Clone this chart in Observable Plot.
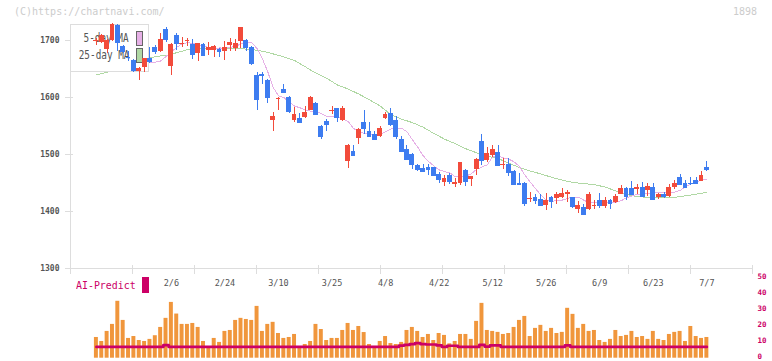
<!DOCTYPE html>
<html><head><meta charset="utf-8">
<script src="https://cdn.jsdelivr.net/npm/d3@7"></script>
<script src="https://cdn.jsdelivr.net/npm/@observablehq/plot@0.6"></script>
<style>
body{margin:0;background:#fff;}
#wrap{position:relative;width:772px;height:361px;overflow:hidden;font-family:"DejaVu Sans Mono",monospace;background:#fff;}
#wrap svg{position:absolute;left:0;top:0;}
.abs{position:absolute;white-space:nowrap;}
</style></head><body><div id="wrap"></div>
<script>
// ---- data ----
const open  = [1699,1697,1684,1700,1727,1690,1671,1665,1646,1653, 1668,1688,1680,1719,1654,1708,1694,1699,1693,1677, 1693,1682,1683,1684,1680,1692,1686,1699,1700,1688, 1639,1640,1630,1560,1597,1614,1600,1559,1563,1565, 1578,1590,1550,1558,1577,1580,1559,1487,1506,1528, 1557,1541,1535,1532,1563,1572,1560,1526,1509,1500, 1481,1475,1478,1477,1465,1451,1463,1448,1450,1472, 1457,1474,1523,1490,1499,1504,1480,1483,1471,1450, 1449,1422,1425,1421,1411,1425,1423,1425,1429,1425, 1403,1407,1404,1410,1420,1409,1420,1416,1430,1440, 1440,1439,1442,1436,1442,1425,1430,1426,1442,1460, 1449,1450,1454,1453,1477];
const high  = [1704,1711,1702,1729,1728,1692,1680,1667,1653,1669, 1688,1691,1712,1722,1695,1712,1706,1703,1701,1695, 1694,1696,1692,1686,1699,1703,1702,1723,1701,1689, 1644,1644,1631,1574,1600,1622,1601,1583,1572,1585, 1602,1591,1551,1561,1584,1581,1585,1517,1516,1545, 1577,1556,1540,1550,1574,1580,1566,1531,1516,1501, 1482,1482,1483,1478,1468,1463,1467,1458,1486,1473, 1462,1493,1535,1512,1516,1516,1493,1493,1472,1466, 1451,1433,1429,1429,1432,1426,1434,1440,1436,1425, 1418,1412,1433,1420,1432,1425,1421,1430,1446,1442, 1453,1448,1451,1449,1449,1432,1433,1447,1454,1465, 1454,1460,1460,1470,1488];
const low   = [1692,1695,1678,1698,1681,1677,1663,1644,1630,1643, 1659,1675,1679,1696,1638,1682,1687,1690,1666,1663, 1672,1674,1670,1670,1665,1680,1680,1686,1680,1657, 1578,1623,1590,1541,1578,1607,1572,1557,1556,1563, 1577,1568,1527,1541,1570,1556,1558,1475,1496,1518, 1535,1529,1526,1529,1562,1550,1527,1504,1490,1474, 1470,1470,1464,1463,1449,1443,1447,1442,1446,1443, 1443,1464,1480,1486,1494,1480,1474,1461,1447,1447, 1409,1416,1413,1410,1402,1405,1413,1423,1416,1405, 1396,1393,1402,1404,1405,1405,1404,1414,1429,1420, 1429,1429,1425,1427,1420,1421,1423,1424,1439,1446, 1440,1446,1448,1452,1470];
const close = [1700,1709,1700,1728,1696,1680,1670,1647,1651,1668, 1664,1680,1702,1701,1693,1695,1695,1700,1676,1695, 1674,1688,1690,1680,1687,1697,1694,1723,1687,1659, 1597,1638,1600,1567,1598,1609,1576,1570,1557,1574, 1600,1570,1532,1553,1578,1565,1580,1516,1499,1544, 1546,1531,1527,1546,1570,1552,1532,1505,1492,1483, 1474,1471,1474,1464,1456,1458,1452,1451,1486,1452, 1461,1492,1490,1502,1509,1481,1483,1468,1448,1448, 1414,1423,1420,1411,1420,1418,1430,1432,1434,1409, 1410,1394,1429,1411,1410,1420,1414,1427,1440,1426, 1430,1442,1427,1444,1421,1429,1427,1442,1449,1447, 1442,1449,1449,1464,1474];
const volume = [13.0,10.5,16.8,21.2,35.7,23.7,12.4,13.6,11.1,10.5, 11.8,14.1,19.3,25.0,35.0,27.7,21.2,21.2,21.8,19.3, 10.5,7.0,12.4,9.9,16.8,17.4,23.7,25.0,24.3,23.7, 32.5,16.8,21.2,22.5,15.5,12.4,13.0,14.9,7.0,8.6, 10.5,21.2,18.0,11.1,12.4,12.4,17.4,21.8,17.4,19.9, 16.1,8.6,7.4,10.5,13.6,9.2,8.6,9.9,17.4,19.3, 16.8,13.0,14.9,11.1,15.5,14.3,9.0,10.5,14.9,14.9, 11.8,23.1,34.4,17.4,16.8,16.2,14.9,15.5,19.3,23.7, 26.2,13.6,18.7,20.6,16.8,18.7,15.5,16.2,31.3,27.5, 18.7,21.2,16.8,17.4,11.1,9.9,11.8,17.4,13.6,14.3, 16.8,13.0,13.6,11.8,16.8,11.8,11.1,14.9,16.2,16.8, 10.5,19.9,13.6,12.4,13.0];
const aiPredict = [7.1,7.1,7.1,7.1,7.1,7.1,7.1,7.1,7.1,7.1, 7.1,7.1,7.1,8.2,7.1,7.1,7.1,7.1,7.1,7.1, 7.1,7.1,7.1,7.1,7.1,7.1,7.1,7.1,7.1,7.1, 7.1,7.1,7.1,7.1,7.1,7.1,7.1,7.1,7.1,7.1, 7.1,7.1,7.1,7.1,7.1,7.1,7.1,7.1,7.1,7.1, 7.1,7.1,7.1,7.1,7.1,7.1,7.1,7.9,8.3,8.8, 9.4,8.8,8.6,8.6,8.0,7.1,7.8,7.8,7.1,7.1, 7.1,7.1,8.3,7.3,8.0,8.0,7.1,7.1,7.1,7.1, 7.1,7.1,7.1,7.1,7.1,7.1,7.1,7.1,8.0,7.1, 7.1,7.1,7.1,7.1,7.1,7.1,7.1,7.1,7.1,7.1, 7.1,7.1,7.1,7.1,7.1,7.1,7.1,7.1,7.1,7.1, 7.1,7.1,7.1,7.1,7.1];
const ma5 = [1700,1701,1702,1706,1707,1701,1690,1678,1666,1661, 1662,1662,1664,1672,1680,1688,1694,1696,1695,1692, 1690,1688,1686,1687,1686,1688,1690,1694,1696,1696, 1686,1668,1645,1618,1603,1600,1592,1585,1582,1578, 1576,1575,1572,1567,1567,1566,1562,1558,1546,1540, 1537,1535,1534,1535,1540,1545,1546,1546,1540,1526, 1513,1498,1488,1480,1473,1470,1468,1461,1461,1462, 1466,1474,1478,1482,1496,1498,1494,1492,1487,1479, 1464,1452,1440,1429,1420,1418,1419,1420,1423,1425, 1425,1420,1415,1416,1416,1416,1416,1416,1419,1424, 1427,1430,1431,1432,1433,1433,1433,1433,1434,1437, 1443,1448,1452,1455,1456];
const ma25Day   = [0,1,2,5,8,10,12,14,15,16,17,19,22,25,28,30,32,34,35,37,39,40,42,43,45,47,49,51,53,55,57,59,61,63,65,67,69,71,73,75,77,79,81,83,85,87,89,91,93,95,97,99,101,103,105,107,109,111,113,114];
const ma25Value = [1640,1642,1644,1655,1665,1670,1673,1675,1679,1681,1684,1686,1686,1686,1685,1683,1679,1674,1671,1665,1654,1648,1638,1634,1622,1615,1606,1596,1585,1570,1562,1556,1548,1537,1527,1519,1510,1503,1497,1493,1485,1477,1471,1466,1460,1455,1451,1449,1447,1443,1436,1430,1426,1425,1424,1424,1426,1429,1432,1434];
const labelDay  = [14,24,34,44,54,64,74,84,94,104,114];
const dateLabels = ["2/6","2/24","3/10","3/25","4/8","4/22","5/12","5/26","6/9","6/23","7/7"];
const priceTicks = [1300,1400,1500,1600,1700];
const volumeTicks = [0,10,20,30,40,50];

// ---- styling / layout ----
const W = 772, H = 361;
const UP = "#f24b3b", DOWN = "#3d7cf0", MA5C = "#e6b0e6", MA25C = "#b0d8a4";
const AXIS = "#dddddd", TXT = "#555555", MAG = "#cc0066", VOLC = "#f0963c";
const xDomain = [-4.837, 122.52];           // day-index domain of the plotting area
const pxPerDay = (W - 70 - 20) / (xDomain[1] - xDomain[0]);
const pricePerPx = (1700 - 1300) / (268 - 40);
const gridDays = d3.range(12).map(k => xDomain[0] + k * (xDomain[1] - xDomain[0]) / 11);

const days = d3.range(close.length);
const candles = days.map(i => ({i, o: open[i], h: high[i], l: low[i], c: close[i]}));
const col = d => d.c >= d.o ? UP : DOWN;
const half = 0.45;

const common = {
  width: W, height: H, marginLeft: 70, marginRight: 20,
  x: {domain: xDomain, axis: null},
  style: {background: "transparent", overflow: "visible", fontFamily: "DejaVu Sans Mono, monospace"}
};

const wrap = document.getElementById("wrap");

// layer A: axes, ticks, labels, moving averages
const svgA = Plot.plot({
  ...common, marginTop: 40, marginBottom: H - 268,
  y: {domain: [1300, 1700], axis: null},
  marks: [
    Plot.ruleY([1300], {stroke: AXIS}),
    Plot.ruleX([xDomain[0]], {y1: 1300, y2: 1300 + 244 * pricePerPx, stroke: AXIS}),
    Plot.ruleY(priceTicks, {x1: xDomain[0] - 5 / pxPerDay, x2: xDomain[0] + 3 / pxPerDay, stroke: AXIS}),
    Plot.ruleX(gridDays, {y1: 1300 + 3 * pricePerPx, y2: 1300 - 6 * pricePerPx, stroke: AXIS}),
    Plot.text(priceTicks, {x: xDomain[0], y: d => d, text: d => String(d), textAnchor: "end", dx: -11, fill: TXT, fontSize: 8, fontWeight: "bold"}),
    Plot.text(labelDay, {x: d => d, y: 1300, text: (d, k) => dateLabels[k], dy: 15, fill: TXT, fontSize: 8.5}),
    Plot.line(ma25Value, {x: (d, k) => ma25Day[k], y: d => d, stroke: MA25C, strokeWidth: 1}),
    Plot.line(ma5, {x: (d, k) => k, y: d => d, stroke: MA5C, strokeWidth: 1})
  ]
});
svgA.style.shapeRendering = "crispEdges";
wrap.appendChild(svgA);

// legend box (drawn over the MA lines, under the candles)
function abs(html, css) { const d = document.createElement("div"); d.className = "abs"; d.innerHTML = html; Object.assign(d.style, css); wrap.appendChild(d); return d; }
abs("", {left: "70px", top: "24px", width: "79px", height: "48px", boxSizing: "border-box", border: "1px solid #dddddd", background: "#fff"});
abs("5-day MA", {right: (W - 129) + "px", top: "30px", fontSize: "13px", color: TXT, transform: "scaleX(0.72)", transformOrigin: "right center", lineHeight: "16px"});
abs("25-day MA", {right: (W - 129) + "px", top: "47px", fontSize: "13px", color: TXT, transform: "scaleX(0.72)", transformOrigin: "right center", lineHeight: "16px"});
abs("", {left: "136px", top: "31px", width: "7px", height: "15px", boxSizing: "border-box", border: "1px solid #666", background: MA5C});
abs("", {left: "136px", top: "48px", width: "7px", height: "15px", boxSizing: "border-box", border: "1px solid #666", background: MA25C});

// layer B: candles
const svgB = Plot.plot({
  ...common, marginTop: 40, marginBottom: H - 268,
  y: {domain: [1300, 1700], axis: null},
  marks: [
    Plot.ruleX(candles, {x: "i", y1: "l", y2: "h", stroke: col, strokeWidth: 1}),
    Plot.ruleY(candles, {y: "c", x1: d => d.i - half, x2: d => d.i + half, stroke: col}),
    Plot.rect(candles, {x1: d => d.i - half, x2: d => d.i + half, y1: "o", y2: "c", fill: col})
  ]
});
svgB.style.shapeRendering = "crispEdges";
wrap.appendChild(svgB);

// layer C: volume + AI predict
const svgC = Plot.plot({
  ...common, marginTop: 278, marginBottom: H - 357.7,
  y: {domain: [0, 50], axis: null},
  marks: [
    Plot.rect(volume, {x1: (d, k) => k - 0.37, x2: (d, k) => k + 0.37, y1: 0, y2: d => d, fill: VOLC}),
    Plot.line(aiPredict, {x: (d, k) => k, y: d => d, stroke: MAG, strokeWidth: 2.7, curve: "step"}),
    Plot.text(volumeTicks, {x: xDomain[1], y: d => d, text: d => String(d), textAnchor: "start", dx: 5, dy: -1.5, fill: MAG, fontSize: 7.5, fontWeight: "bold"})
  ]
});
wrap.appendChild(svgC);

// texts
abs("AI-Predict", {left: "76px", top: "278px", fontSize: "11px", color: MAG, transform: "scaleX(0.9)", transformOrigin: "left center", lineHeight: "16px"});
abs("", {left: "142px", top: "277px", width: "7px", height: "16px", background: MAG});
abs("(C)https://chartnavi.com/", {left: "14px", top: "5px", fontSize: "10px", color: "#cccccc", lineHeight: "14px"});
abs("1898", {right: (W - 757) + "px", top: "5px", fontSize: "10px", color: "#cccccc", lineHeight: "14px"});
</script></body></html>
